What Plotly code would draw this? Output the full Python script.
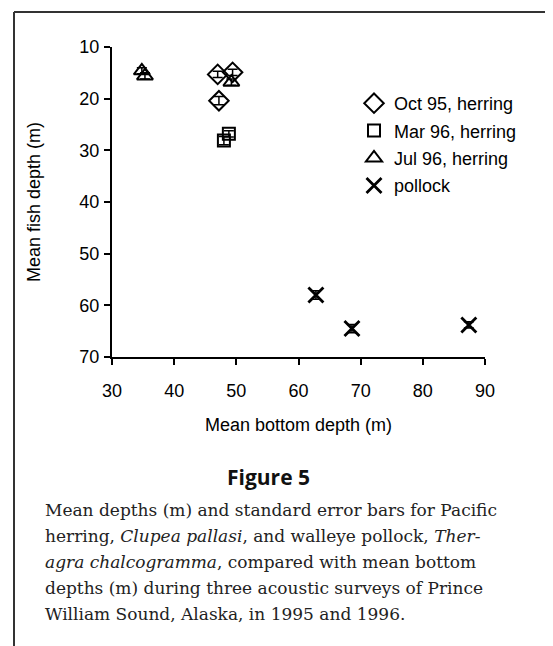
import plotly.graph_objects as go

# Data (mean bottom depth, mean fish depth)
oct95_x = [47.0, 49.4, 47.2]
oct95_y = [15.3, 14.9, 20.4]
oct95_err = [0.6, 0.6, 0.8]

mar96_x = [48.0, 48.8]
mar96_y = [28.1, 26.8]
mar96_err = [0.8, 0.6]

jul96_x = [34.8, 35.3, 49.2]
jul96_y = [14.6, 15.6, 16.8]
jul96_err = [0.6, 0.6, 0.6]

pollock_x = [62.8, 68.6, 87.4]
pollock_y = [58.0, 64.5, 63.8]
pollock_err = [0.8, 0.8, 0.6]

x_ticks = [30, 40, 50, 60, 70, 80, 90]
y_ticks = [10, 20, 30, 40, 50, 60, 70]

caption_title = "Figure 5"
caption_lines = [
    "Mean depths (m) and standard error bars for Pacific",
    "herring, <i>Clupea pallasi</i>, and walleye pollock, <i>Ther-</i>",
    "<i>agra chalcogramma</i>, compared with mean bottom",
    "depths (m) during three acoustic surveys of Prince",
    "William Sound, Alaska, in 1995 and 1996.",
]

# Layout geometry, in screen pixels (the page body adds an 8px offset)
OFF = 8
W, H = 553, 646
SL, SR, ST, SB = 112, 485, 47, 357   # plot area on screen
PL, PR, PT, PB = SL - OFF, SR - OFF, ST - OFF, SB - OFF
pw, ph = PR - PL, PB - PT


def px(xs):
    return (xs - OFF - PL) / pw


def py(ys):
    return (PB - (ys - OFF)) / ph


fig = go.Figure()

series = [
    ("Oct 95, herring", oct95_x, oct95_y, oct95_err, "diamond-open", 15, 2),
    ("Mar 96, herring", mar96_x, mar96_y, mar96_err, "square-open", 12, 2),
    ("Jul 96, herring", jul96_x, jul96_y, jul96_err, "triangle-up-open", 14, 2),
    ("pollock", pollock_x, pollock_y, pollock_err, "x-thin-open", 15, 2.8),
]
for name, xs, ys, es, sym, sz, lw in series:
    fig.add_trace(go.Scatter(
        x=xs, y=ys, mode="markers", name=name, legendgroup=name,
        error_y=dict(type="data", array=es, color="black", thickness=1.5, width=5),
        marker=dict(symbol=sym, size=sz, color="black",
                    line=dict(color="black", width=lw)),
    ))

FONT = "Liberation Sans, Arial, sans-serif"
tick_font = dict(family=FONT, size=18, color="black")
title_font = dict(family=FONT, size=18, color="black")

fig.update_layout(
    width=W, height=H,
    margin=dict(l=PL, r=W - PR, t=PT, b=H - PB, pad=0),
    paper_bgcolor="white", plot_bgcolor="white",
    showlegend=True,
    legend=dict(x=px(354), y=py(85), xanchor="left", yanchor="top",
                font=dict(family=FONT, size=18, color="black"),
                bgcolor="rgba(0,0,0,0)", tracegroupgap=1, itemwidth=30),
    xaxis=dict(range=[30, 90], tickvals=x_ticks, ticktext=[str(v) for v in x_ticks],
               showgrid=False, zeroline=False, showline=True, linecolor="black", linewidth=2,
               ticks="outside", ticklen=6, tickwidth=2, tickcolor="black",
               tickfont=tick_font, ticklabelstandoff=10,
               title=dict(text="Mean bottom depth (m)", font=title_font, standoff=19)),
    yaxis=dict(range=[70, 10], tickvals=y_ticks, ticktext=[str(v) for v in y_ticks],
               showgrid=False, zeroline=False, showline=True, linecolor="black", linewidth=2,
               ticks="outside", ticklen=6, tickwidth=2, tickcolor="black",
               tickfont=tick_font, ticklabelstandoff=1,
               title=dict(text="Mean fish depth (m)", font=title_font, standoff=34)),
)

# Frame around the figure panel (left and top edges)
fig.add_shape(type="line", xref="paper", yref="paper",
              x0=px(14), y0=py(H + 20), x1=px(14), y1=py(12),
              line=dict(color="#333333", width=2))
fig.add_shape(type="line", xref="paper", yref="paper",
              x0=px(14), y0=py(12), x1=px(W + 20), y1=py(12),
              line=dict(color="#333333", width=2))

fig.add_annotation(text="<b>" + caption_title + "</b>", xref="paper", yref="paper",
                   x=px(268), y=py(477), xanchor="center", yanchor="middle", showarrow=False,
                   font=dict(family="Open Sans, Liberation Sans, sans-serif", size=21, color="#111111"))

line_y = [510, 536, 562, 588, 614]
for t, yy in zip(caption_lines, line_y):
    fig.add_annotation(text=t, xref="paper", yref="paper",
                       x=px(43), y=py(yy), xanchor="left", yanchor="middle", showarrow=False,
                       font=dict(family="DejaVu Serif, serif", size=17, color="#222222"))

fig.write_html("out.html")
